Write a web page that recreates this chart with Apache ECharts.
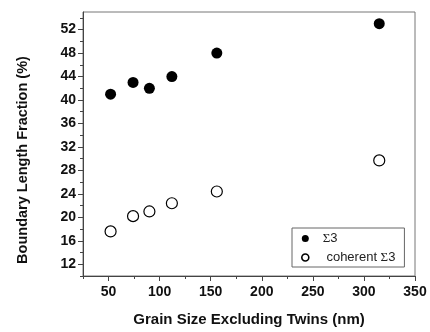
<!DOCTYPE html>
<html>
<head>
<meta charset="utf-8">
<script src="https://cdn.jsdelivr.net/npm/echarts@6/dist/echarts.min.js"></script>
<style>
  html, body { margin: 0; padding: 0; background: #fff; }
  #chart { width: 430px; height: 332px; }
</style>
</head>
<body>
<div id="chart"></div>
<script>
// grain size (nm) and boundary length fraction (%)
const grainSize = [52, 74, 90, 112, 156, 315];
const sigma3 = [41, 43, 42, 44, 48, 53];
const coherentSigma3 = [17.6, 20.2, 21, 22.4, 24.4, 29.7];
const xLabels = [50, 100, 150, 200, 250, 300, 350];
const xMinor = [25, 75, 125, 175, 225, 275, 325];
const yLabels = [12, 16, 20, 24, 28, 32, 36, 40, 44, 48, 52];
const yMinor = [10, 14, 18, 22, 26, 30, 34, 38, 42, 46, 50, 54];

const chart = echarts.init(document.getElementById('chart'));

const axisColor = '#444';
const labelFont = { fontFamily: 'Liberation Sans, Arial', fontWeight: 'bold', fontSize: 14, color: '#111' };

// major axis + an overlay axis only for the minor ticks
function xAxisCfg(values, len, labels) {
  return {
    type: 'value', min: 25, max: 350, position: 'bottom',
    splitLine: { show: false },
    axisLine: { show: labels, lineStyle: { color: axisColor, width: 1 } },
    axisTick: { show: true, inside: false, length: len, customValues: values, lineStyle: { color: axisColor } },
    axisLabel: labels ? Object.assign({ customValues: values, margin: 9 }, labelFont) : { show: false },
    name: labels ? 'Grain Size Excluding Twins (nm)' : '',
    nameLocation: 'middle', nameGap: 36,
    nameTextStyle: { fontFamily: 'Liberation Sans, Arial', fontWeight: 'bold', fontSize: 15, color: '#111' }
  };
}
function yAxisCfg(values, len, labels) {
  return {
    type: 'value', min: 10, max: 55, position: 'left',
    splitLine: { show: false },
    axisLine: { show: labels, lineStyle: { color: axisColor, width: 1 } },
    axisTick: { show: true, inside: false, length: len, customValues: values, lineStyle: { color: axisColor } },
    axisLabel: labels ? Object.assign({ customValues: values, margin: 7 }, labelFont) : { show: false },
    name: labels ? 'Boundary Length Fraction (%)' : '',
    nameLocation: 'middle', nameGap: 53, nameRotate: 90,
    nameTextStyle: {
      fontFamily: 'Liberation Sans, Arial', fontWeight: 'bold', fontSize: 14.5, color: '#111',
      padding: [0, 32, 0, 0] // title sits a bit below the axis middle
    }
  };
}

const option = {
  backgroundColor: '#fff',
  animation: false,
  grid: {
    left: 83, right: 15, top: 12, bottom: 52,
    show: true, borderColor: '#777', borderWidth: 1
  },
  xAxis: [xAxisCfg(xLabels, 5, true), xAxisCfg(xMinor, 3, false)],
  yAxis: [yAxisCfg(yLabels, 5, true), yAxisCfg(yMinor, 3, false)],
  legend: {
    orient: 'vertical',
    left: 292, top: 228,
    padding: [4, 9, 3, 9],
    itemGap: 6,
    itemWidth: 7, itemHeight: 7,
    borderColor: '#666', borderWidth: 1,
    formatter: name => name.replace('Σ', '{s|Σ}'),
    textStyle: {
      fontFamily: 'Liberation Sans, Arial', fontSize: 13, color: '#222',
      padding: [0, 0, 0, 9],
      rich: { s: { fontFamily: 'Liberation Serif', fontSize: 13, color: '#222' } }
    },
    data: [
      { name: 'Σ3', icon: 'circle' },
      { name: ' coherent Σ3', icon: 'circle', itemStyle: { borderWidth: 1.6 } }
    ]
  },
  series: [
    {
      name: 'Σ3',
      type: 'scatter',
      symbol: 'circle',
      symbolSize: 11,
      itemStyle: { color: '#000', opacity: 1 },
      data: grainSize.map((g, i) => [g, sigma3[i]])
    },
    {
      name: ' coherent Σ3',
      type: 'scatter',
      symbol: 'circle',
      symbolSize: 11,
      itemStyle: { color: '#fff', borderColor: '#000', borderWidth: 1.2, opacity: 1 },
      data: grainSize.map((g, i) => [g, coherentSigma3[i]])
    }
  ]
};

chart.setOption(option);
</script>
</body>
</html>
